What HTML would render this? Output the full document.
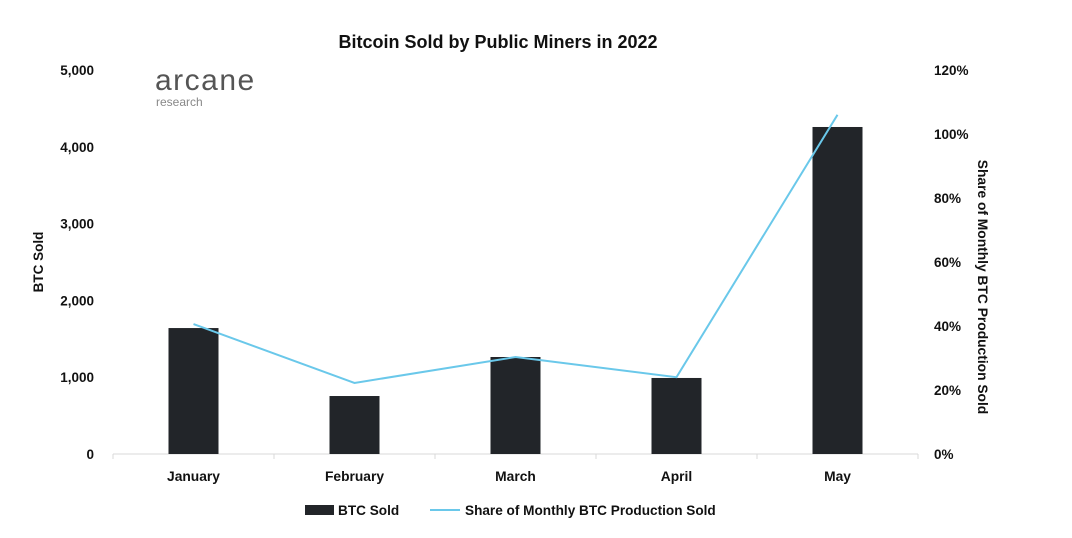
<!DOCTYPE html>
<html><head><meta charset="utf-8"><style>
html,body{margin:0;padding:0;background:#fff;}
svg{display:block;font-family:"Liberation Sans",Arial,sans-serif;}
</style></head><body>
<svg id="chart" width="1072" height="538" viewBox="0 0 1072 538">
<text x="498" y="48" text-anchor="middle" font-size="18" font-weight="bold" fill="#111">Bitcoin Sold by Public Miners in 2022</text>
<g>
<text x="155" y="90" font-size="30" fill="#555" letter-spacing="1.5">arcane</text>
<text x="156" y="106" font-size="12" fill="#888">research</text>
</g>
<text transform="translate(43,262) rotate(-90)" text-anchor="middle" font-size="13.5" font-weight="bold" fill="#111">BTC Sold</text>
<text transform="translate(978,287) rotate(90)" text-anchor="middle" font-size="13.8" font-weight="bold" fill="#111">Share of Monthly BTC Production Sold</text>
<g id="g-left"></g><g id="g-right"></g><g id="g-x"></g><g id="g-bars"></g><g id="g-line"></g>
<g>
<rect x="305" y="505" width="29" height="10" fill="#222529"/>
<text x="338" y="515" font-size="13.6" font-weight="bold" fill="#111">BTC Sold</text>
<line x1="430" y1="510" x2="460" y2="510" stroke="#6ac8ea" stroke-width="2"/>
<text x="465" y="515" font-size="13.6" font-weight="bold" fill="#111">Share of Monthly BTC Production Sold</text>
</g>
</svg>
<script>
const categories=["January","February","March","April","May"];
const btcSold=[1640,755,1263,990,4258];
const sharePct=[40.6,22.2,30.3,24,106];
const leftTicks=[0,1000,2000,3000,4000,5000];
const rightTicks=[0,20,40,60,80,100,120];
const NS="http://www.w3.org/2000/svg";
const x0=113,x1=918,y0=454,yTop=70;
const yL=v=>y0-(v/5000)*(y0-yTop);
const yR=v=>y0-(v/120)*(y0-yTop);
const bw=(x1-x0)/categories.length;
const xC=i=>x0+bw*(i+0.5);
function mk(tag,attrs,parent,text){const e=document.createElementNS(NS,tag);for(const k in attrs)e.setAttribute(k,attrs[k]);if(text!==undefined)e.textContent=text;document.getElementById(parent).appendChild(e);return e;}
leftTicks.forEach(t=>{const e=mk("text",{x:94,y:yL(t)+5,"text-anchor":"end","font-size":13.5,"font-weight":"bold",fill:"#111"},"g-left",t.toLocaleString("en-US"));

});
rightTicks.forEach(t=>{const e=mk("text",{x:934,y:yR(t)+5,"font-size":13.5,"font-weight":"bold",fill:"#111"},"g-right",t+"%");

});
const ax=mk("line",{x1:x0,y1:y0,x2:x1,y2:y0,stroke:"#d9d9d9","stroke-width":1},"g-x");


for(let i=0;i<=categories.length;i++){const t=mk("line",{x1:x0+bw*i,y1:y0,x2:x0+bw*i,y2:y0+5,stroke:"#d9d9d9"},"g-x");

}
categories.forEach((c,i)=>{const e=mk("text",{x:xC(i),y:481,"text-anchor":"middle","font-size":13.8,"font-weight":"bold",fill:"#111"},"g-x",c);


const b=mk("rect",{x:xC(i)-25,y:yL(btcSold[i]),width:50,height:y0-yL(btcSold[i]),fill:"#222529"},"g-bars");

});
const pts=sharePct.map((v,i)=>xC(i)+","+yR(v)).join(" ");
const pl=mk("polyline",{points:pts,fill:"none",stroke:"#6ac8ea","stroke-width":2},"g-line");


</script>
</body></html>
